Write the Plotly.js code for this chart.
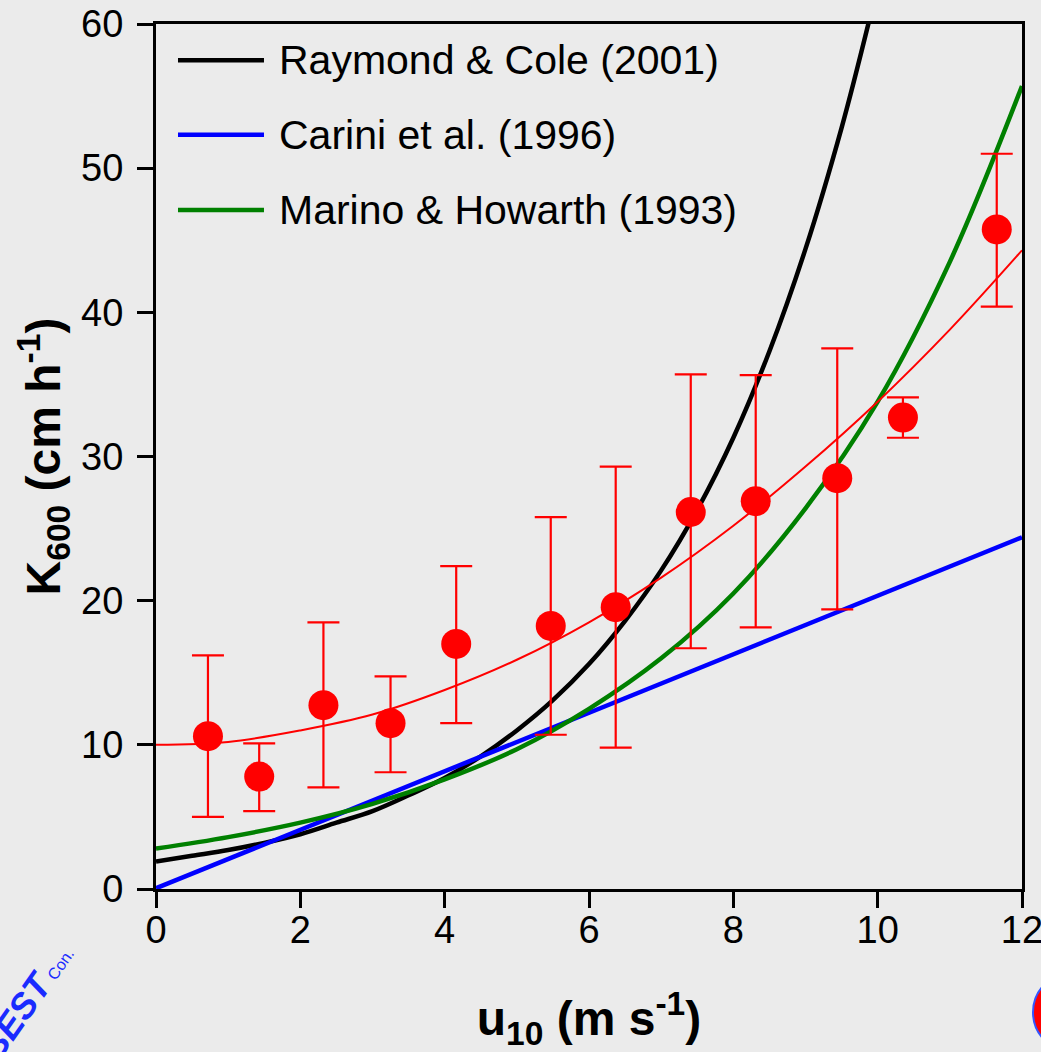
<!DOCTYPE html>
<html>
<head>
<meta charset="utf-8">
<script src="https://cdn.plot.ly/plotly-3.0.1.min.js"></script>
<style>html,body{margin:0;padding:0;background:#ebebeb;}#chart{width:1041px;height:1052px;}</style>
</head>
<body>
<div id="chart"></div>
<script>
// ---- data ----
const obsU = [0.72, 1.43, 2.32, 3.25, 4.16, 5.47, 6.37, 7.41, 8.31, 9.44, 10.35, 11.65];
const obsK = [10.6, 7.8, 12.75, 11.5, 17.0, 18.25, 19.55, 26.15, 26.9, 28.5, 32.7, 45.75];
const obsTop = [16.2, 10.1, 18.5, 14.75, 22.4, 25.8, 29.3, 35.7, 35.65, 37.5, 34.1, 51.0];
const obsBottom = [5.0, 5.4, 7.05, 8.1, 11.5, 10.7, 9.8, 16.7, 18.15, 19.4, 31.3, 40.4];

const fitU = [0, 1, 2, 3, 4, 5, 6, 7, 8, 9, 10, 11, 12];
const fitK = [10.0, 10.2, 11.0, 12.1, 13.8, 15.9, 18.5, 21.6, 25.2, 29.3, 33.8, 38.8, 44.3];

const rcU = [0, 0.5, 1, 1.5, 2, 2.5, 3, 3.5, 4, 4.5, 5, 5.5, 6, 6.5, 7, 7.5, 8, 8.5, 9, 9.5, 9.9];
const rcK = [1.9, 2.3, 2.7, 3.2, 3.8, 4.6, 5.4, 6.5, 7.7, 9.2, 11.0, 13.1, 15.6, 18.6, 22.1, 26.3, 31.3, 37.3, 44.4, 52.8, 60.6];

const caU = [0, 6, 12];
const caK = [0.05, 12.2, 24.4];

const mhU = [0, 1, 2, 3, 4, 5, 6, 7, 8, 9, 10, 11, 12];
const mhK = [2.8, 3.6, 4.6, 5.9, 7.6, 9.7, 12.5, 16.0, 20.5, 26.4, 33.8, 43.5, 55.7];

const seriesNames = ['Raymond & Cole (2001)', 'Carini et al. (1996)', 'Marino & Howarth (1993)'];
const seriesColors = ['#000000', '#0000ff', '#008000'];

const xTicks = [0, 2, 4, 6, 8, 10, 12];
const yTicks = [0, 10, 20, 30, 40, 50, 60];

// ---- traces ----
const errPlus = obsTop.map((t, i) => t - obsK[i]);
const errMinus = obsBottom.map((b, i) => obsK[i] - b);

const traces = [
  {x: rcU, y: rcK, mode: 'lines', name: seriesNames[0], line: {color: seriesColors[0], width: 4.5, shape: 'spline'}, showlegend: false},
  {x: caU, y: caK, mode: 'lines', name: seriesNames[1], line: {color: seriesColors[1], width: 4.5}, showlegend: false},
  {x: mhU, y: mhK, mode: 'lines', name: seriesNames[2], line: {color: seriesColors[2], width: 4.5, shape: 'spline'}, showlegend: false},
  {x: fitU, y: fitK, mode: 'lines', name: 'fit', line: {color: '#ff0000', width: 2, shape: 'spline'}, showlegend: false},
  {x: obsU, y: obsK, mode: 'markers', name: 'observed', showlegend: false,
   marker: {color: '#ff0000', size: 30},
   error_y: {type: 'data', symmetric: false, array: errPlus, arrayminus: errMinus, color: '#ff0000', thickness: 2.2, width: 16}}
];

// ---- custom legend (long line samples) ----
const legRowY = [0.958, 0.872, 0.785];
const shapes = seriesNames.map((n, i) => ({
  type: 'line', xref: 'paper', yref: 'paper', x0: 0.0254, x1: 0.1247, y0: legRowY[i], y1: legRowY[i],
  line: {color: seriesColors[i], width: 4.5}
}));
shapes.push({type: 'circle', xref: 'paper', yref: 'paper', x0: 1.0127, x1: 1.09, y0: -0.185, y1: -0.1,
  fillcolor: '#ff0000', line: {color: '#3355ff', width: 2}});

const annotations = seriesNames.map((n, i) => ({
  text: n, xref: 'paper', yref: 'paper', x: 0.1397, y: legRowY[i], xanchor: 'left', yanchor: 'middle',
  showarrow: false, font: {family: 'Liberation Sans, Arial, sans-serif', size: 41, color: '#000'}
}));
annotations.push({text: '<b><i>BEST</i></b><span style="font-size:16px"> Con.</span>', xref: 'paper', yref: 'paper',
  x: -0.15, y: -0.13, xanchor: 'center', yanchor: 'middle', textangle: -55, showarrow: false,
  font: {family: 'Liberation Sans, Arial, sans-serif', size: 36, color: '#1a2bff'}});

const layout = {
  width: 1041, height: 1052,
  margin: {l: 156, r: 19, t: 24, b: 163, pad: 0},
  paper_bgcolor: '#ebebeb', plot_bgcolor: '#ebebeb',
  font: {family: 'Liberation Sans, Arial, sans-serif', color: '#000'},
  showlegend: false,
  xaxis: {
    range: [0, 12], tickvals: xTicks, ticktext: xTicks.map(String),
    showgrid: false, zeroline: false, showline: true, mirror: true, linecolor: '#000', linewidth: 3,
    ticks: 'outside', ticklen: 16, tickwidth: 3, tickcolor: '#000', ticklabelstandoff: -11,
    ticklabeloverflow: 'allow',
    tickfont: {size: 38, color: '#000'},
    title: {text: '<b>u<sub>10</sub> (m s<sup>-1</sup>)</b>', font: {size: 48, color: '#000'}, standoff: 53}
  },
  yaxis: {
    range: [0, 60], tickvals: yTicks, ticktext: yTicks.map(String),
    showgrid: false, zeroline: false, showline: true, mirror: true, linecolor: '#000', linewidth: 3,
    ticks: 'outside', ticklen: 16, tickwidth: 3, tickcolor: '#000', ticklabelstandoff: 6,
    tickfont: {size: 38, color: '#000'},
    title: {text: '<b>K<sub>600</sub> (cm h<sup>-1</sup>)</b>', font: {size: 48, color: '#000'}, standoff: 6}
  },
  shapes: shapes,
  annotations: annotations
};

Plotly.newPlot('chart', traces, layout, {displayModeBar: false, staticPlot: true});
</script>
</body>
</html>
